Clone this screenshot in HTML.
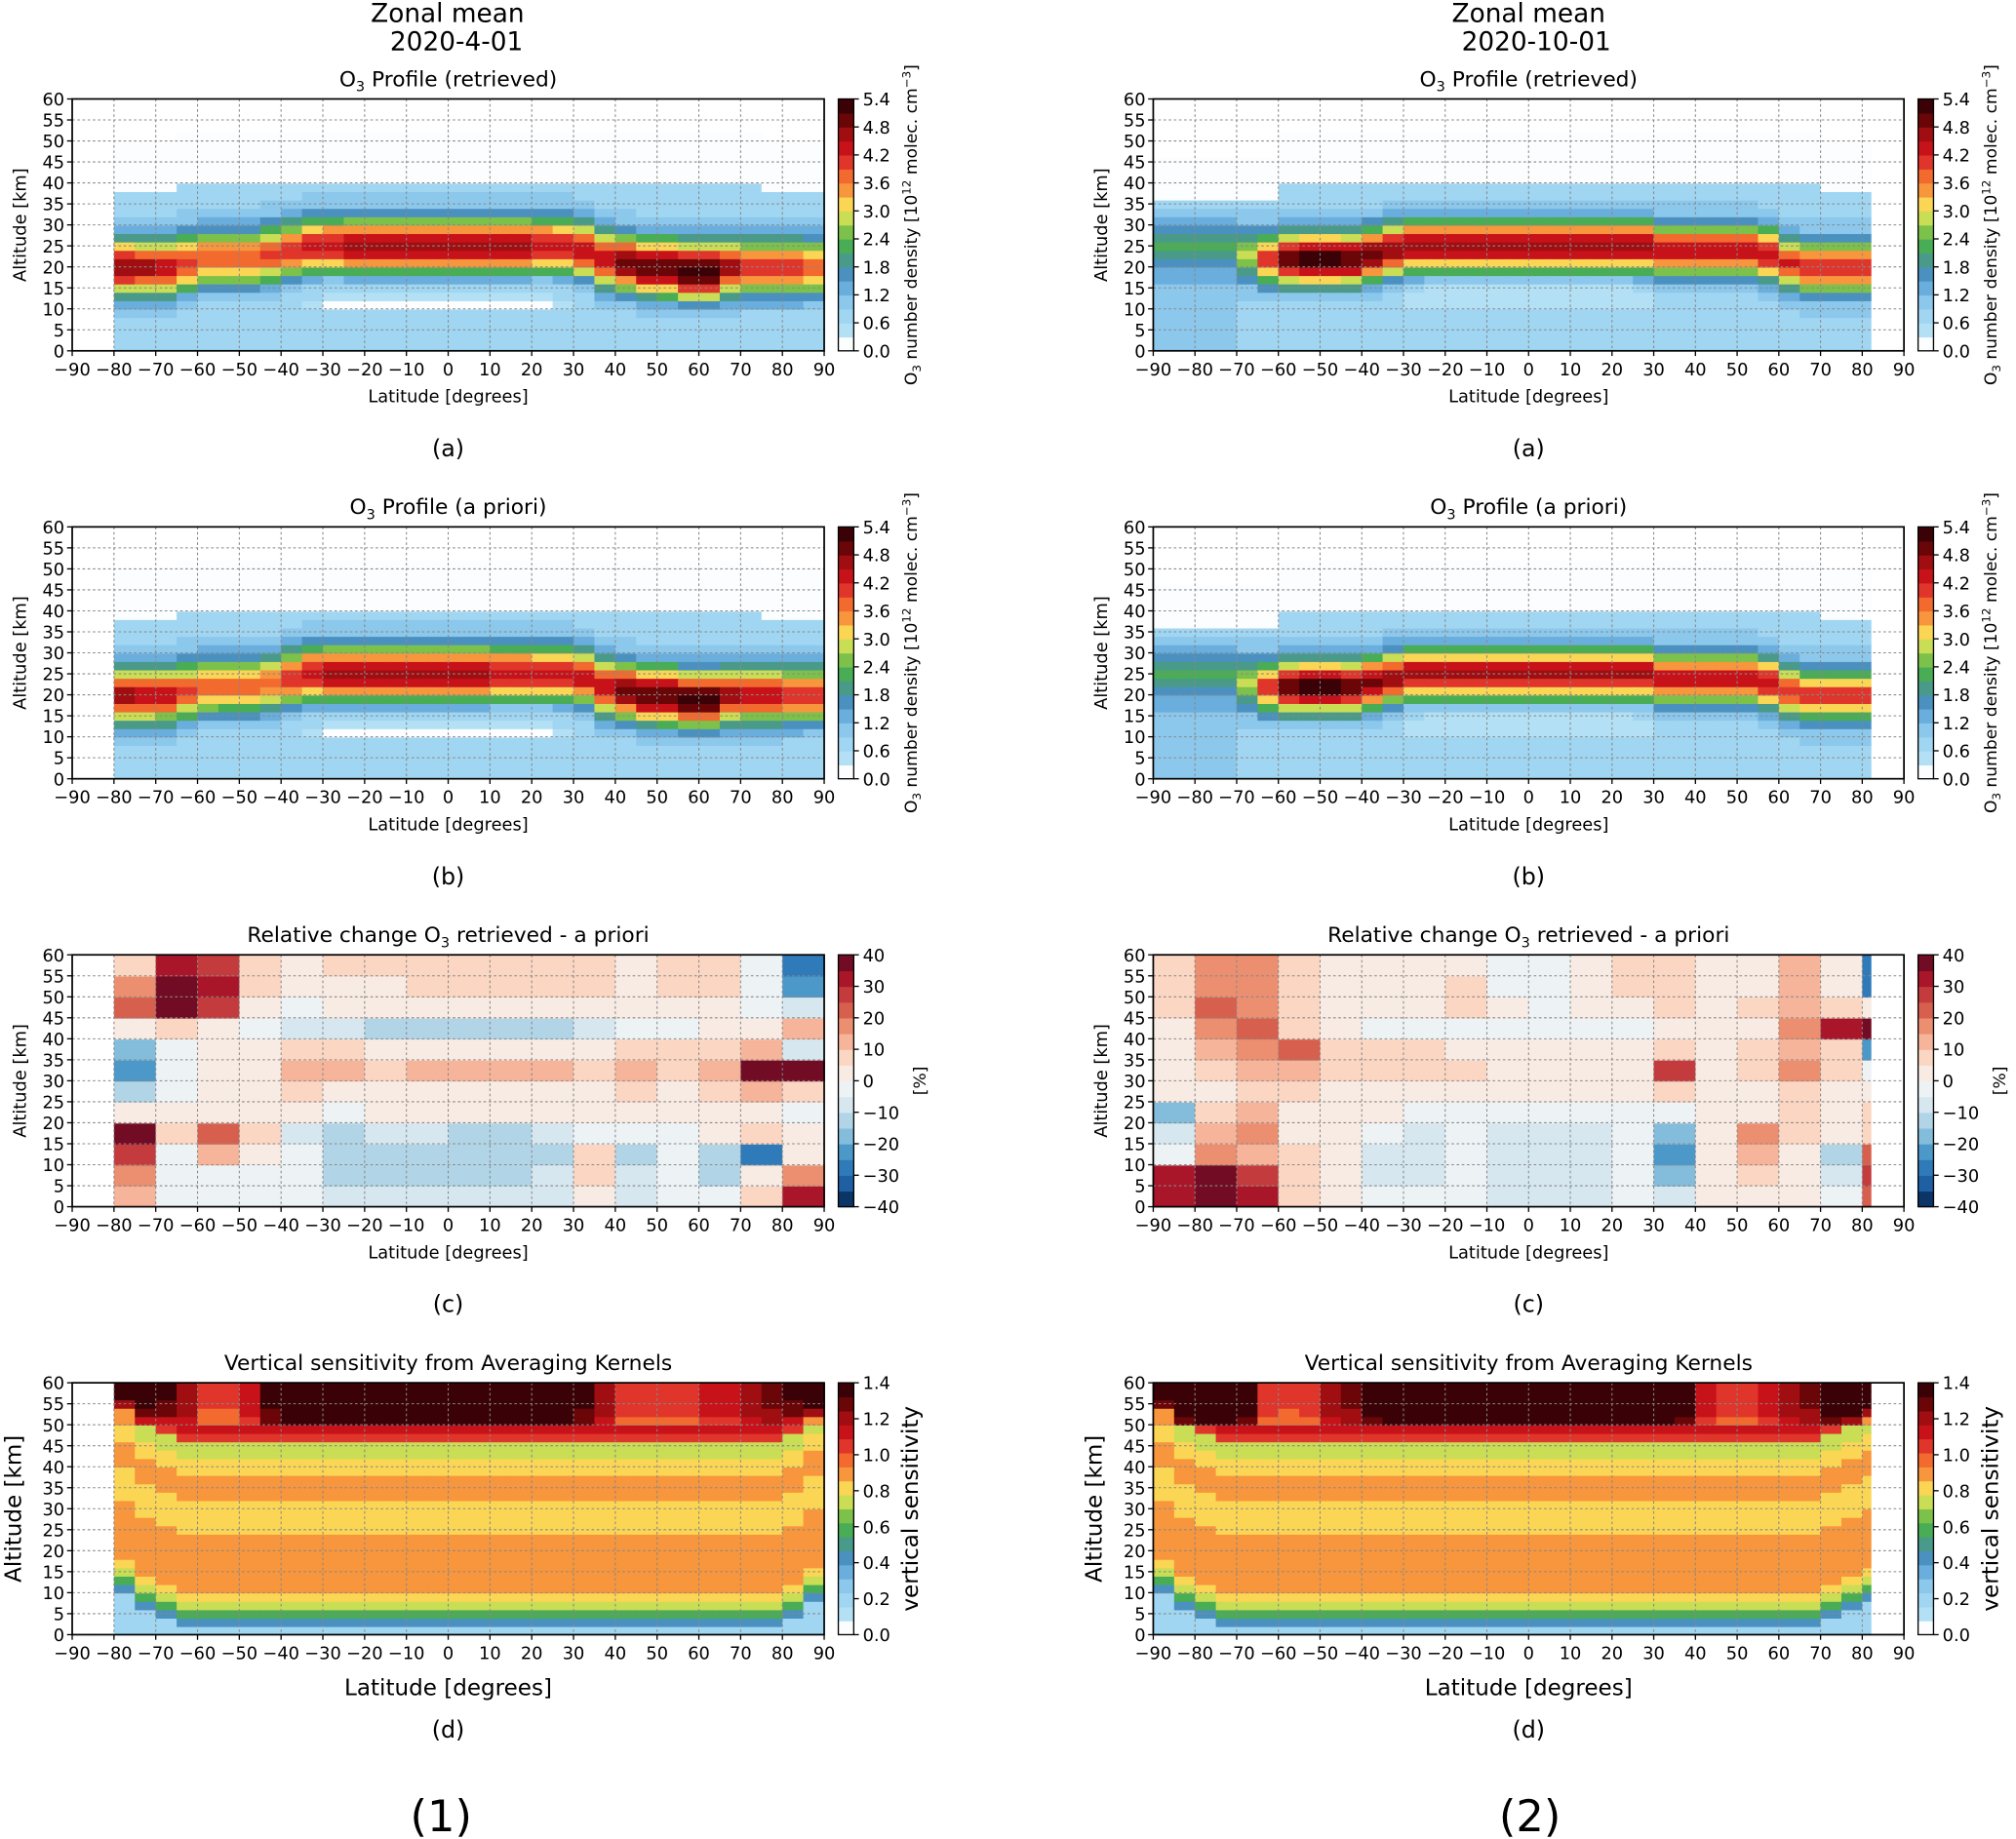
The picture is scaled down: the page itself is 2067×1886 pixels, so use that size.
<!DOCTYPE html>
<html><head><meta charset="utf-8"><style>
html,body{margin:0;padding:0;background:#fff;}
svg{display:block;font-family:"DejaVu Sans","Liberation Sans",sans-serif;}
</style></head><body>
<svg id="fig" width="2067" height="1886" viewBox="0 0 1568 1431" xmlns="http://www.w3.org/2000/svg"></svg>
<script>
// ---------- data ----------
const latTicks=[-90,-80,-70,-60,-50,-40,-30,-20,-10,0,10,20,30,40,50,60,70,80,90];
const altTicks=[0,5,10,15,20,25,30,35,40,45,50,55,60];
const ozTicks=["0.0","0.6","1.2","1.8","2.4","3.0","3.6","4.2","4.8","5.4"];
const rcTicks=["-40","-30","-20","-10","0","10","20","30","40"];
const vsTicks=["0.0","0.2","0.4","0.6","0.8","1.0","1.2","1.4"];
const ozCols=["#fbfdff","#b3e0f5","#a0d6f2","#8cc8ec","#6aaedd","#4b91c0","#4a9a8a","#48ad55","#7cc24a","#c9dd55","#fbd654","#f7963c","#f26a2e","#e0352a","#c8121a","#a00e12","#6a0508","#3a0206"];
const rbCols=["#0b3566","#1f5fa3","#2f7ab8","#4c98c8","#84bddb","#b1d5e7","#d6e7f0","#edf2f5","#f8ebe4","#fbd6c3","#f6b59a","#eb8f70","#d6604d","#c33b3c","#a9162a","#720b24"];
// ozone, 5-degree latitude columns (-87.5 ... 87.5)
const peakAlt1=[null,null,20,20,20,21,22,22,22,23,24,25,25,25,25,25,25,25,25,25,25,25,25,25,24,22,21,20,20,19,19,20,20,20,20,20];
const peakVal1a=[null,null,4.8,4.6,4.4,4.1,3.9,3.9,3.9,4.0,4.1,4.3,4.5,4.6,4.6,4.6,4.6,4.7,4.7,4.6,4.6,4.6,4.5,4.4,4.4,4.5,4.9,5.1,5.2,5.4,5.4,4.6,4.2,4.2,4.2,3.8];
const peakVal1b=[null,null,4.6,4.5,4.3,4.0,3.8,3.7,3.7,3.8,4.2,4.5,4.6,4.6,4.6,4.6,4.6,4.6,4.6,4.6,4.5,4.5,4.4,4.3,4.3,4.5,4.9,5.1,5.2,5.3,5.3,4.6,4.3,4.3,4.2,4.0];
const top1=[null,null,38,38,38,40,40,40,40,40,40,40,40,40,40,40,40,40,40,40,40,40,40,40,40,40,40,40,40,40,40,40,40,38,38,38];
const floor1=[null,null,0.7,0.7,0.7,0.7,0.7,0.7,0.7,0.7,0.6,0.5,0.25,0.25,0.25,0.25,0.25,0.25,0.25,0.25,0.25,0.25,0.25,0.5,0.6,0.7,0.7,0.7,0.7,0.7,0.7,0.7,0.7,0.7,0.7,0.7];
const peakAlt2=[25,25,25,25,23,22,22,22,22,22,23,24,25,25,25,25,25,25,25,25,25,25,25,25,24,24,24,24,24,23,21,20,20,20,20,null];
const peakVal2a=[2.2,2.2,2.2,2.2,2.8,4.0,5.0,5.4,5.4,5.2,5.0,4.8,4.7,4.7,4.7,4.7,4.7,4.7,4.7,4.7,4.7,4.7,4.7,4.7,4.4,4.4,4.4,4.4,4.4,4.4,4.2,4.1,4.1,4.1,4.1,null];
const peakVal2b=[2.2,2.2,2.2,2.2,2.8,4.0,5.0,5.3,5.3,5.1,4.9,4.7,4.6,4.6,4.6,4.6,4.6,4.6,4.6,4.6,4.6,4.6,4.6,4.6,4.3,4.3,4.3,4.3,4.3,4.3,4.1,4.0,4.0,4.0,4.0,null];
const top2=[35,35,35,35,35,35,40,40,40,40,40,40,40,40,40,40,40,40,40,40,40,40,40,40,40,40,40,40,40,40,40,40,38,38,38,null];
const floor2=[1.0,1.0,1.0,1.0,0.8,0.7,0.7,0.7,0.7,0.7,0.7,0.6,0.5,0.3,0.3,0.3,0.3,0.3,0.3,0.3,0.3,0.3,0.3,0.5,0.6,0.7,0.7,0.7,0.7,0.7,0.7,0.8,0.8,0.8,0.8,null];
// relative change, 10-degree x 5-km grid, rows top (55-60) to bottom (0-5)
const rel1=[
[null,5,30,25,5,0,5,5,5,8,8,5,5,3,5,5,-5,-30],
[null,15,35,30,5,0,3,3,5,5,8,5,5,3,5,5,-5,-25],
[null,20,35,25,3,-3,0,0,3,3,3,0,0,0,3,3,-3,-10],
[null,0,5,3,-5,-8,-10,-12,-12,-12,-12,-12,-8,-5,-3,0,0,10],
[null,-20,-5,0,0,5,5,0,0,0,0,0,3,5,5,5,10,-10],
[null,-25,-5,3,3,10,10,8,10,12,12,10,8,12,8,10,35,35],
[null,-15,-3,0,3,5,3,3,3,3,3,3,0,5,3,5,10,5],
[null,0,0,0,0,0,-3,0,0,0,0,0,0,0,0,0,0,-5],
[null,35,5,20,5,-8,-12,-10,-10,-12,-12,-10,-3,-5,-5,0,5,3],
[null,25,-5,10,0,-5,-15,-12,-12,-12,-12,-12,5,-12,-5,-15,-30,0],
[null,15,-3,-5,-3,-3,-15,-12,-12,-12,-12,-10,5,-10,-5,-15,0,15],
[null,10,-3,-5,-3,-3,-8,-10,-10,-10,-10,-8,3,-8,-5,-5,5,30]];
const rel2=[
[5,15,15,5,0,0,0,3,-3,-3,0,5,8,3,0,10,0,-30],
[5,18,18,5,0,0,3,8,-3,-5,0,5,8,3,3,12,0,-30],
[5,20,18,5,0,0,3,5,0,-3,0,3,5,3,5,10,5,0],
[3,15,20,5,0,-3,-3,-3,-5,-5,-5,-3,0,0,0,15,30,35],
[0,10,15,20,5,5,5,0,0,0,0,0,5,0,5,10,5,-25],
[0,5,10,10,5,5,5,5,3,3,3,3,25,3,5,15,5,-5],
[0,0,5,5,0,0,0,0,0,0,0,0,5,0,0,5,3,0],
[-20,5,10,0,0,0,-5,-3,-3,-3,-3,-3,-5,0,0,5,0,5],
[-10,10,15,0,0,-5,-8,-5,-8,-8,-8,-5,-20,0,15,5,0,5],
[-5,15,10,5,0,-8,-10,-5,-10,-10,-10,-5,-25,0,10,0,-15,20],
[30,35,25,5,0,-8,-8,-5,-10,-10,-10,-5,-20,0,5,0,-10,25],
[30,35,30,5,0,-3,-5,-3,-8,-8,-8,-3,-10,0,3,0,-5,20]];
// vertical sensitivity: altitude profile (2-km rows, bottom up) and latitude modifiers
const vsProf=[0.2,0.4,0.55,0.75,0.85,0.9,0.92,0.92,0.92,0.9,0.9,0.9,0.8,0.8,0.8,0.82,0.9,0.9,0.9,0.85,0.8,0.75,0.75,1.05,1.15,1.25,1.3,1.35,1.35,1.35];
const vsTop1=[null,null,1.15,1.1,1.0,0.9,0.75,0.75,0.85,1.0,1.1,1.15,1.15,1.15,1.15,1.15,1.15,1.15,1.15,1.15,1.15,1.15,1.15,1.1,1.0,0.9,0.8,0.8,0.8,0.8,0.85,0.85,0.9,0.95,1.0,1.15];
const vsShift1=[0,0,8,4,2,0,0,0,0,0,0,0,0,0,0,0,0,0,0,0,0,0,0,0,0,0,0,0,0,0,0,0,0,0,2,6];
const vsTop2=[1.2,1.2,1.2,1.2,1.05,0.8,0.75,0.8,0.9,0.95,1.05,1.15,1.15,1.15,1.15,1.15,1.15,1.15,1.15,1.15,1.15,1.15,1.15,1.15,1.15,1.05,0.85,0.8,0.8,0.85,0.9,0.95,1.1,1.15,1.15,null];
const vsShift2=[8,4,2,0,0,0,0,0,0,0,0,0,0,0,0,0,0,0,0,0,0,0,0,0,0,0,0,0,0,0,0,0,2,4,6,0];

// ---------- helpers ----------
const NS="http://www.w3.org/2000/svg";
const svg=document.getElementById('fig');
function mk(tag,attrs,parent){const e=document.createElementNS(NS,tag);for(const k in attrs)e.setAttribute(k,attrs[k]);(parent||svg).appendChild(e);return e;}
function txt(s,x,y,size,anchor,parent,extra){const t=mk('text',Object.assign({x:x,y:y,'font-size':size,'text-anchor':anchor||'middle',fill:'#000'},extra||{}),parent);t.textContent=s;return t;}
function ozColor(v,max){let i=Math.floor(v/max*18);if(i<0)i=0;if(i>17)i=17;return ozCols[i];}
function rbColor(v){let i=Math.floor((v+40)/5);if(i<0)i=0;if(i>15)i=15;return rbCols[i];}

function axes(P){
  P.xs=lat=>P.x0+(lat+90)/180*(P.x1-P.x0);
  P.ys=alt=>P.y1-alt/60*(P.y1-P.y0);
}
function drawCells(P,g,latStep,altStep,fn){
  const nLat=Math.round(180/latStep),nAlt=Math.round(60/altStep);
  for(let i=0;i<nLat;i++){
    let lo=-90+i*latStep,hi=lo+latStep;
    lo=Math.max(lo,P.latMin);hi=Math.min(hi,P.latMax);
    if(hi<=lo)continue;
    for(let j=0;j<nAlt;j++){
      const c=fn(i,j);
      if(!c)continue;
      const x=P.xs(lo),w=P.xs(hi)-x,y=P.ys((j+1)*altStep),h=P.ys(j*altStep)-y;
      mk('rect',{x:x.toFixed(2),y:y.toFixed(2),width:(w+0.6).toFixed(2),height:(h+0.6).toFixed(2),fill:c},g);
    }
  }
}
function frame(P,g,title,cbColors,cbTicks,cbLabel,big,sub){
  const gg=mk('g',{},g);
  
  
  latTicks.forEach(t=>mk('line',{x1:P.xs(t),x2:P.xs(t),y1:P.y0,y2:P.y1,stroke:'#888','stroke-width':0.8,'stroke-dasharray':'2,2'},gg));
  altTicks.forEach(t=>mk('line',{x1:P.x0,x2:P.x1,y1:P.ys(t),y2:P.ys(t),stroke:'#888','stroke-width':0.8,'stroke-dasharray':'2,2'},gg));
  const fr=mk('rect',{x:P.x0,y:P.y0,width:P.x1-P.x0,height:P.y1-P.y0,fill:'none',stroke:'#000','stroke-width':1.3},g);
  
  
  const xa=mk('g',{},g);
  
  
  latTicks.forEach(t=>{mk('line',{x1:P.xs(t),x2:P.xs(t),y1:P.y1,y2:P.y1+4,stroke:'#000','stroke-width':1},xa);txt(String(t).replace('-','\u2212'),P.xs(t),P.y1+19,13.5,'middle',xa);});
  const xl=txt('Latitude [degrees]',(P.x0+P.x1)/2,P.y1+(big?47:40),big?17.5:13.5,'middle',g);
  
  
  const ya=mk('g',{},g);
  
  
  altTicks.forEach(t=>{mk('line',{x1:P.x0-4,x2:P.x0,y1:P.ys(t),y2:P.ys(t),stroke:'#000','stroke-width':1},ya);txt(String(t),P.x0-6,P.ys(t)+5,13.5,'end',ya);});
  const yl=txt('Altitude [km]',0,0,big?17.5:13.5,'middle',g,{transform:`translate(${P.x0-(big?40:36)},${(P.y0+P.y1)/2}) rotate(-90)`});
  
  
  const ti=mk('text',{x:(P.x0+P.x1)/2,y:P.y0-10,'font-size':16.5,'text-anchor':'middle'},g);
  
  
  title.forEach(p=>{const ts=mk('tspan',p.sub?{'font-size':11,dy:4}:(p.after?{dy:-4}:{}),ti);ts.textContent=p.t;});
  const sl=txt(sub,(P.x0+P.x1)/2,P.y1+(big?80:82),18,'middle',g);
  
  
  const cb=mk('g',{},g);
  
  
  const cx=P.x1+11,cw=12,n=cbColors.length,hh=(P.y1-P.y0)/n;
  cbColors.forEach((c,k)=>mk('rect',{x:cx,y:P.y1-(k+1)*hh,width:cw,height:hh+0.5,fill:c},cb));
  mk('rect',{x:cx,y:P.y0,width:cw,height:P.y1-P.y0,fill:'none',stroke:'#000','stroke-width':1},cb);
  cbTicks.forEach((t,k)=>{const y=P.y1-k/(cbTicks.length-1)*(P.y1-P.y0);mk('line',{x1:cx+cw,x2:cx+cw+4,y1:y,y2:y,stroke:'#000'},cb);txt(t.replace('-','\u2212'),cx+cw+7,y+5,13.5,'start',cb);});
  const cl=mk('text',{'font-size':cbLabel.size,'text-anchor':'middle',transform:`translate(${cx+cw+cbLabel.dx},${(P.y0+P.y1)/2}) rotate(-90)`},cb);
  
  
  cbLabel.parts.forEach(p=>{const ts=mk('tspan',p.a||{},cl);ts.textContent=p.t;});
}

const ozLabel={size:13,dx:49,parts:[{t:'O'},{t:'3',a:{'font-size':9,dy:3}},{t:' number density [10',a:{dy:-3}},{t:'12',a:{'font-size':9,dy:-5}},{t:' molec. cm',a:{dy:5}},{t:'\u22123',a:{'font-size':9,dy:-5}},{t:']',a:{dy:5}}]};
const rcLabel={size:13,dx:56,parts:[{t:'[%]'}]};
const vsLabel={size:17.5,dx:50,parts:[{t:'vertical sensitivity'}]};
const O3=[{t:'O'},{t:'3',sub:true}];

function ozPanel(P,peakAlt,peakVal,top,floor,sig,name,titleTxt,sub){
  axes(P);
  const g=mk('g',{});
  
  
  const hm=mk('g',{},g);
  
  
  drawCells(P,hm,5,2,(i,j)=>{
    if(peakVal[i]==null)return null;
    const z=j*2+1;
    if(z>top[i])return z<top[i]+12?ozColor(0.1,5.4):null;
    const d=(z-peakAlt[i])/sig;
    let fl=0.8;
    if(z<peakAlt[i])fl=(z>=11&&z<=17)?floor[i]:Math.max(floor[i],0.65);
    const v=fl+(peakVal[i]-fl)*Math.exp(-d*d);
    return ozColor(v,5.4);
  });
  frame(P,g,O3.concat([{t:titleTxt,after:true}]),ozCols,ozTicks,ozLabel,false,sub);
}
function relPanel(P,grid,name,sub){
  axes(P);
  const g=mk('g',{});
  
  
  const hm=mk('g',{},g);
  
  
  drawCells(P,hm,10,5,(i,j)=>{const v=grid[11-j][i];return v==null?null:rbColor(v);});
  frame(P,g,[{t:'Relative change O'},{t:'3',sub:true},{t:' retrieved - a priori',after:true}],rbCols,rcTicks,rcLabel,false,sub);
}
function vsPanel(P,topMul,shift,name,sub){
  axes(P);
  const g=mk('g',{});
  
  
  const hm=mk('g',{},g);
  
  
  drawCells(P,hm,5,2,(i,j)=>{
    if(topMul[i]==null)return null;
    const r=j-Math.round(shift[i]/2);
    let v=r<0?vsProf[0]*0.8:vsProf[r];
    if(j>=25)v*=topMul[i];
    return ozColor(v,1.4);
  });
  frame(P,g,[{t:'Vertical sensitivity from Averaging Kernels'}],ozCols,vsTicks,vsLabel,true,sub);
}

const L={x0:56,x1:641},R={x0:897,x1:1481};
const rows=[77,410,743,1076];
function P(col,row,latMin,latMax){return {x0:col.x0,x1:col.x1,y0:rows[row],y1:rows[row]+196,latMin:latMin,latMax:latMax};}

ozPanel(P(L,0,-80,90),peakAlt1,peakVal1a,top1,floor1,6.5,'panel-1a-o3-retrieved',' Profile (retrieved)','(a)');
ozPanel(P(L,1,-80,90),peakAlt1,peakVal1b,top1,floor1,6.5,'panel-1b-o3-apriori',' Profile (a priori)','(b)');
relPanel(P(L,2,-80,90),rel1,'panel-1c-relative-change','(c)');
vsPanel(P(L,3,-80,90),vsTop1,vsShift1,'panel-1d-vertical-sensitivity','(d)');
ozPanel(P(R,0,-90,82),peakAlt2,peakVal2a,top2,floor2,6,'panel-2a-o3-retrieved',' Profile (retrieved)','(a)');
ozPanel(P(R,1,-90,82),peakAlt2,peakVal2b,top2,floor2,6,'panel-2b-o3-apriori',' Profile (a priori)','(b)');
relPanel(P(R,2,-90,82),rel2,'panel-2c-relative-change','(c)');
vsPanel(P(R,3,-90,82),vsTop2,vsShift2,'panel-2d-vertical-sensitivity','(d)');

const h1=txt('Zonal mean',348,17,20,'middle');


const h1b=txt('2020-4-01',355,39,20,'middle');


const h2=txt('Zonal mean',1189,17,20,'middle');


const h2b=txt('2020-10-01',1195,39,20,'middle');


const c1=txt('(1)',343,1425,34,'middle');


const c2=txt('(2)',1190,1425,34,'middle');


</script>
</body></html>
